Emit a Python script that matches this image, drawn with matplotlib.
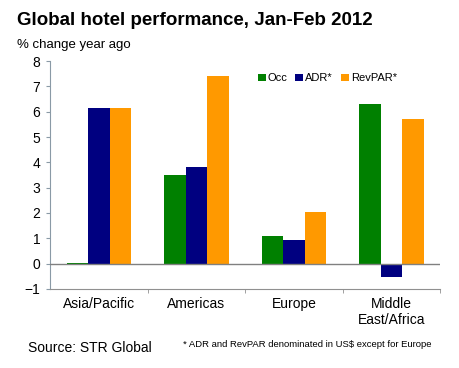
import numpy as np
import matplotlib
matplotlib.use('Agg')
from matplotlib import pyplot as plt

plt.rcParams['font.family'] = ['Liberation Sans', 'DejaVu Sans']

regions = ['Asia/Pacific', 'Americas', 'Europe', 'Middle\nEast/Africa']
occ = [0.03, 3.5, 1.1, 6.3]
adr = [6.15, 3.8, 0.95, -0.55]
revpar = [6.15, 7.4, 2.05, 5.7]
series = [('Occ', occ, '#008000'), ('ADR*', adr, '#000080'), ('RevPAR*', revpar, '#FF9900')]

fig = plt.figure(figsize=(4.6, 3.68), dpi=100)
ax = fig.add_axes([0.109, 0.215, 0.848, 0.619])

x = np.arange(len(regions))
w = 0.22
for i, (name, vals, col) in enumerate(series):
    ax.bar(x + (i - 1) * w, vals, w, color=col, label=name, zorder=2)

ax.axhline(0, color='#808080', lw=1, zorder=3)
ax.set_xlim(-0.5, 3.5)
ax.set_ylim(-1, 8)
ax.set_yticks(range(-1, 9))
ax.set_xticks(x)
ax.set_xticklabels(regions, fontsize=10)
ax.set_xticks(np.arange(0.5, 4, 1), minor=True)
ax.tick_params(axis='x', which='major', length=0, pad=6)
ax.tick_params(axis='x', which='minor', length=3, color='#909090', direction='out')
ax.tick_params(axis='y', length=3, color='#8a9aa6', labelsize=10, pad=4)

for s in ['top', 'right']:
    ax.spines[s].set_visible(False)
ax.spines['left'].set_color('#8a9aa6')
ax.spines['bottom'].set_color('#909090')

ax.legend(loc='upper right', bbox_to_anchor=(0.915, 0.99), ncol=3, frameon=False,
          fontsize=8, handlelength=0.7, handleheight=0.7, handletextpad=0.2,
          columnspacing=0.7)

fig.text(0.037, 0.945, 'Global hotel performance, Jan-Feb 2012', fontsize=13.5,
         fontweight='bold', va='center')
fig.text(0.037, 0.878, '% change year ago', fontsize=9.5, va='center')
fig.text(0.06, 0.055, 'Source: STR Global', fontsize=10, va='center')
fig.text(0.397, 0.063, '* ADR and RevPAR denominated in US$ except for Europe',
         fontsize=6.8, va='center')

fig.savefig('out.png', dpi=100)
